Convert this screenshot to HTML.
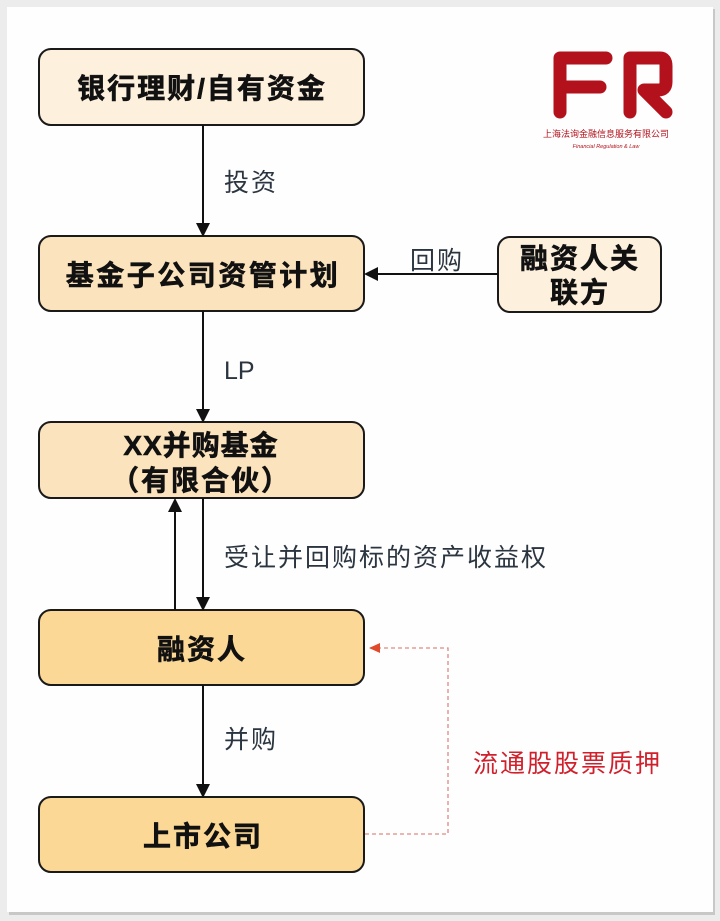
<!DOCTYPE html>
<html><head><meta charset="utf-8"><style>
html,body{margin:0;padding:0;background:#ececec;}
svg{display:block;}
</style></head><body>
<svg width="720" height="921" viewBox="0 0 720 921" xmlns="http://www.w3.org/2000/svg" font-family="Liberation Sans, Noto Sans CJK SC, sans-serif">
<defs>
<marker id="ah" markerWidth="14" markerHeight="14" refX="12" refY="7" orient="auto" markerUnits="userSpaceOnUse"><path d="M0,0 L14,7 L0,14 z" fill="#111"/></marker>
<marker id="ar" markerWidth="12" markerHeight="12" refX="10" refY="5" orient="auto" markerUnits="userSpaceOnUse"><path d="M0,0 L11,5 L0,10 z" fill="#e04a2a"/></marker>
</defs>
<rect x="0" y="0" width="720" height="921" fill="#ececec"/>
<rect x="9" y="9" width="706" height="906" fill="#c8c8c8"/>
<rect x="7" y="7" width="706" height="905" fill="#fefefe"/>
<!-- logo -->
<g fill="none" stroke="#b3121c" stroke-width="13" stroke-linejoin="round" stroke-linecap="round">
<path d="M560,112 L560,58 L606,58"/>
<path d="M560,87 L600,87"/>
<path d="M630,112 L630,58 L660,58 Q666,58 666,66 L666,82 Q666,90 658,90 L644,90 L666,112"/>
</g>
<text x="606" y="137" font-size="9" fill="#b3121c" text-anchor="middle">上海法询金融信息服务有限公司</text>
<text x="606" y="148" font-size="5.5" fill="#b3121c" text-anchor="middle" font-style="italic">Financial Regulation &amp; Law</text>
<!-- boxes -->
<g stroke="#1a1a1a" stroke-width="2">
<rect x="39" y="49" width="325" height="76" rx="12" fill="#fdf0dc"/>
<rect x="39" y="236" width="325" height="75" rx="12" fill="#fbe3bd"/>
<rect x="498" y="237" width="163" height="75" rx="12" fill="#fdf0dc"/>
<rect x="39" y="422" width="325" height="76" rx="12" fill="#fbe3bd"/>
<rect x="39" y="610" width="325" height="75" rx="12" fill="#fcd896"/>
<rect x="39" y="797" width="325" height="75" rx="12" fill="#fcd896"/>
</g>
<g font-size="28" font-weight="bold" fill="#111" text-anchor="middle" stroke="#111" stroke-width="0.6">
<text x="202" y="98" letter-spacing="2">银行理财/自有资金</text>
<text x="203" y="285" letter-spacing="2.5">基金子公司资管计划</text>
<text x="580" y="268" letter-spacing="2">融资人关</text>
<text x="580" y="302" letter-spacing="2">联方</text>
<text x="201" y="455" letter-spacing="1">XX并购基金</text>
<text x="201" y="490" letter-spacing="2">（有限合伙）</text>
<text x="202" y="659" letter-spacing="2">融资人</text>
<text x="203" y="846" letter-spacing="2">上市公司</text>
</g>
<!-- connectors -->
<g stroke="#111" stroke-width="2" fill="none">
<line x1="203" y1="125" x2="203" y2="235" marker-end="url(#ah)"/>
<line x1="498" y1="274" x2="366" y2="274" marker-end="url(#ah)"/>
<line x1="203" y1="311" x2="203" y2="421" marker-end="url(#ah)"/>
<line x1="203" y1="498" x2="203" y2="609" marker-end="url(#ah)"/>
<line x1="175" y1="610" x2="175" y2="500" marker-end="url(#ah)"/>
<line x1="203" y1="685" x2="203" y2="796" marker-end="url(#ah)"/>
</g>
<path d="M365,834 L448,834 L448,648 L370,648" stroke="#e08a80" stroke-width="1.3" stroke-dasharray="4,3" fill="none" marker-end="url(#ar)"/>
<g font-size="25" fill="#2b3540" letter-spacing="2">
<text x="224" y="191">投资</text>
<text x="410" y="269">回购</text>
<text x="224" y="379" letter-spacing="0">LP</text>
<text x="224" y="566">受让并回购标的资产收益权</text>
<text x="224" y="748">并购</text>
</g>
<text x="473" y="772" font-size="25" fill="#d0202c" letter-spacing="2">流通股股票质押</text>
</svg>
</body></html>
